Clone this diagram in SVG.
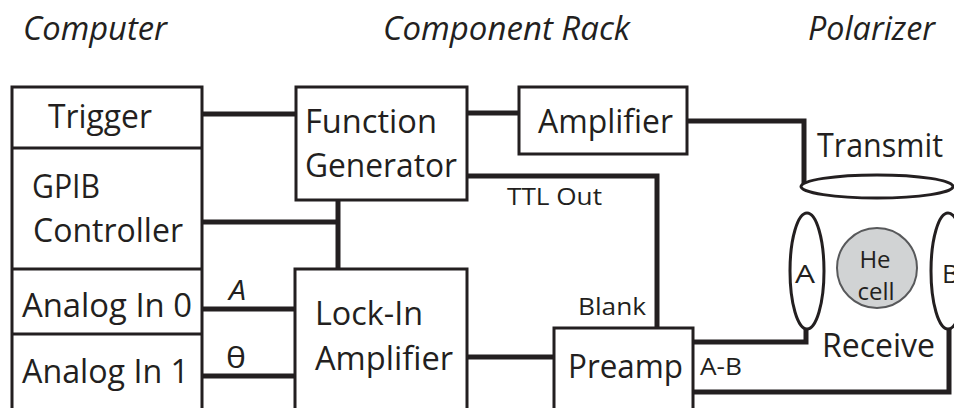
<svg xmlns="http://www.w3.org/2000/svg" width="954" height="408" viewBox="0 0 954 408">
  <style>
    .box { fill: #ffffff; stroke: #231f20; stroke-width: 3; }
    .div { stroke: #231f20; stroke-width: 3; }
    .wire { fill: none; stroke: #231f20; stroke-width: 5; stroke-linejoin: miter; stroke-linecap: butt; }
    .coil { fill: #ffffff; stroke: #231f20; stroke-width: 3; }
    .cell { fill: #d1d3d4; stroke: #58595b; stroke-width: 2; }
    text { font-family: "Open Sans", "Noto Sans", "Liberation Sans", sans-serif; fill: #231f20; }
    .lbl { font-size: 32px; }
    .sm { font-size: 23px; }
    .title { font-size: 33px; font-style: italic; }
  </style>

  <rect width="954" height="408" fill="#ffffff"/>

  <!-- column headings -->
  <g id="headings">
    <text class="title" x="23" y="40" textLength="144" lengthAdjust="spacingAndGlyphs">Computer</text>
    <text class="title" x="383" y="40" textLength="247" lengthAdjust="spacingAndGlyphs">Component Rack</text>
    <text class="title" x="808" y="40" textLength="127" lengthAdjust="spacingAndGlyphs">Polarizer</text>
  </g>

  <!-- wiring between units -->
  <g id="connectors">
    <path class="wire" d="M202 114 H296"/>
    <path class="wire" d="M467 113 H519"/>
    <path class="wire" d="M202 222 H338"/>
    <path class="wire" d="M338 200 V269"/>
    <path class="wire" d="M202 309 H295"/>
    <path class="wire" d="M202 376 H295"/>
    <path class="wire" d="M467 357 H554"/>
    <path class="wire" d="M467 176 H657 V328"/>
    <path class="wire" d="M687 121 H804 V184"/>
    <path class="wire" d="M693 342 H806 V327"/>
    <path class="wire" d="M693 392 H949 V327"/>
    <text x="229" y="300" font-size="27" font-style="italic" textLength="17" lengthAdjust="spacingAndGlyphs">A</text>
    <text x="226" y="368" font-size="30" font-family="Liberation Serif, serif" textLength="20" lengthAdjust="spacingAndGlyphs">θ</text>
    <text class="sm" x="507" y="205" textLength="95" lengthAdjust="spacingAndGlyphs">TTL Out</text>
    <text class="sm" x="578" y="315" textLength="68" lengthAdjust="spacingAndGlyphs">Blank</text>
    <text class="sm" x="700" y="375" textLength="42" lengthAdjust="spacingAndGlyphs">A-B</text>
  </g>

  <!-- computer I/O panel -->
  <g id="computer">
    <rect class="box" x="12" y="87" width="190" height="340"/>
    <line class="div" x1="12" y1="148" x2="202" y2="148"/>
    <line class="div" x1="12" y1="269" x2="202" y2="269"/>
    <line class="div" x1="12" y1="334" x2="202" y2="334"/>
    <text class="lbl" x="48" y="128" textLength="104" lengthAdjust="spacingAndGlyphs">Trigger</text>
    <text class="lbl" x="32" y="198" textLength="68" lengthAdjust="spacingAndGlyphs">GPIB</text>
    <text class="lbl" x="33" y="242" textLength="150" lengthAdjust="spacingAndGlyphs">Controller</text>
    <text class="lbl" x="22" y="317" textLength="170" lengthAdjust="spacingAndGlyphs">Analog In 0</text>
    <text class="lbl" x="22" y="383" textLength="167" lengthAdjust="spacingAndGlyphs">Analog In 1</text>
  </g>

  <g id="function-generator">
    <rect class="box" x="296" y="87" width="171" height="113"/>
    <text class="lbl" x="305" y="133" textLength="132" lengthAdjust="spacingAndGlyphs">Function</text>
    <text class="lbl" x="305" y="177" textLength="152" lengthAdjust="spacingAndGlyphs">Generator</text>
  </g>

  <g id="amplifier">
    <rect class="box" x="519" y="87" width="168" height="67"/>
    <text class="lbl" x="538" y="133" textLength="135" lengthAdjust="spacingAndGlyphs">Amplifier</text>
  </g>

  <g id="lock-in">
    <rect class="box" x="295" y="269" width="172" height="160"/>
    <text class="lbl" x="315" y="325" textLength="108" lengthAdjust="spacingAndGlyphs">Lock-In</text>
    <text class="lbl" x="315" y="370" textLength="138" lengthAdjust="spacingAndGlyphs">Amplifier</text>
  </g>

  <g id="preamp">
    <rect class="box" x="554" y="328" width="139" height="100"/>
    <text class="lbl" x="568" y="378" textLength="115" lengthAdjust="spacingAndGlyphs">Preamp</text>
  </g>

  <g id="transmit-coil">
    <ellipse class="coil" cx="877" cy="186.5" rx="76" ry="11.5"/>
    <text class="lbl" x="817" y="157" textLength="126" lengthAdjust="spacingAndGlyphs">Transmit</text>
  </g>

  <g id="receive-coil-a">
    <ellipse class="coil" cx="807" cy="271" rx="17" ry="58"/>
    <text x="795" y="283" font-size="26" textLength="20" lengthAdjust="spacingAndGlyphs">A</text>
  </g>

  <g id="he-cell">
    <circle class="cell" cx="877" cy="268" r="40"/>
    <text x="875" y="268" font-size="24" text-anchor="middle">He</text>
    <text x="876" y="300" font-size="24" text-anchor="middle">cell</text>
  </g>

  <!-- coil B runs past the right edge of the drawing -->
  <g id="receive-coil-b">
    <ellipse class="coil" cx="948" cy="271" rx="17" ry="58"/>
    <text x="942" y="283" font-size="26">B</text>
  </g>

  <g id="receive-label">
    <text class="lbl" x="822" y="357" textLength="113" lengthAdjust="spacingAndGlyphs">Receive</text>
  </g>
</svg>
